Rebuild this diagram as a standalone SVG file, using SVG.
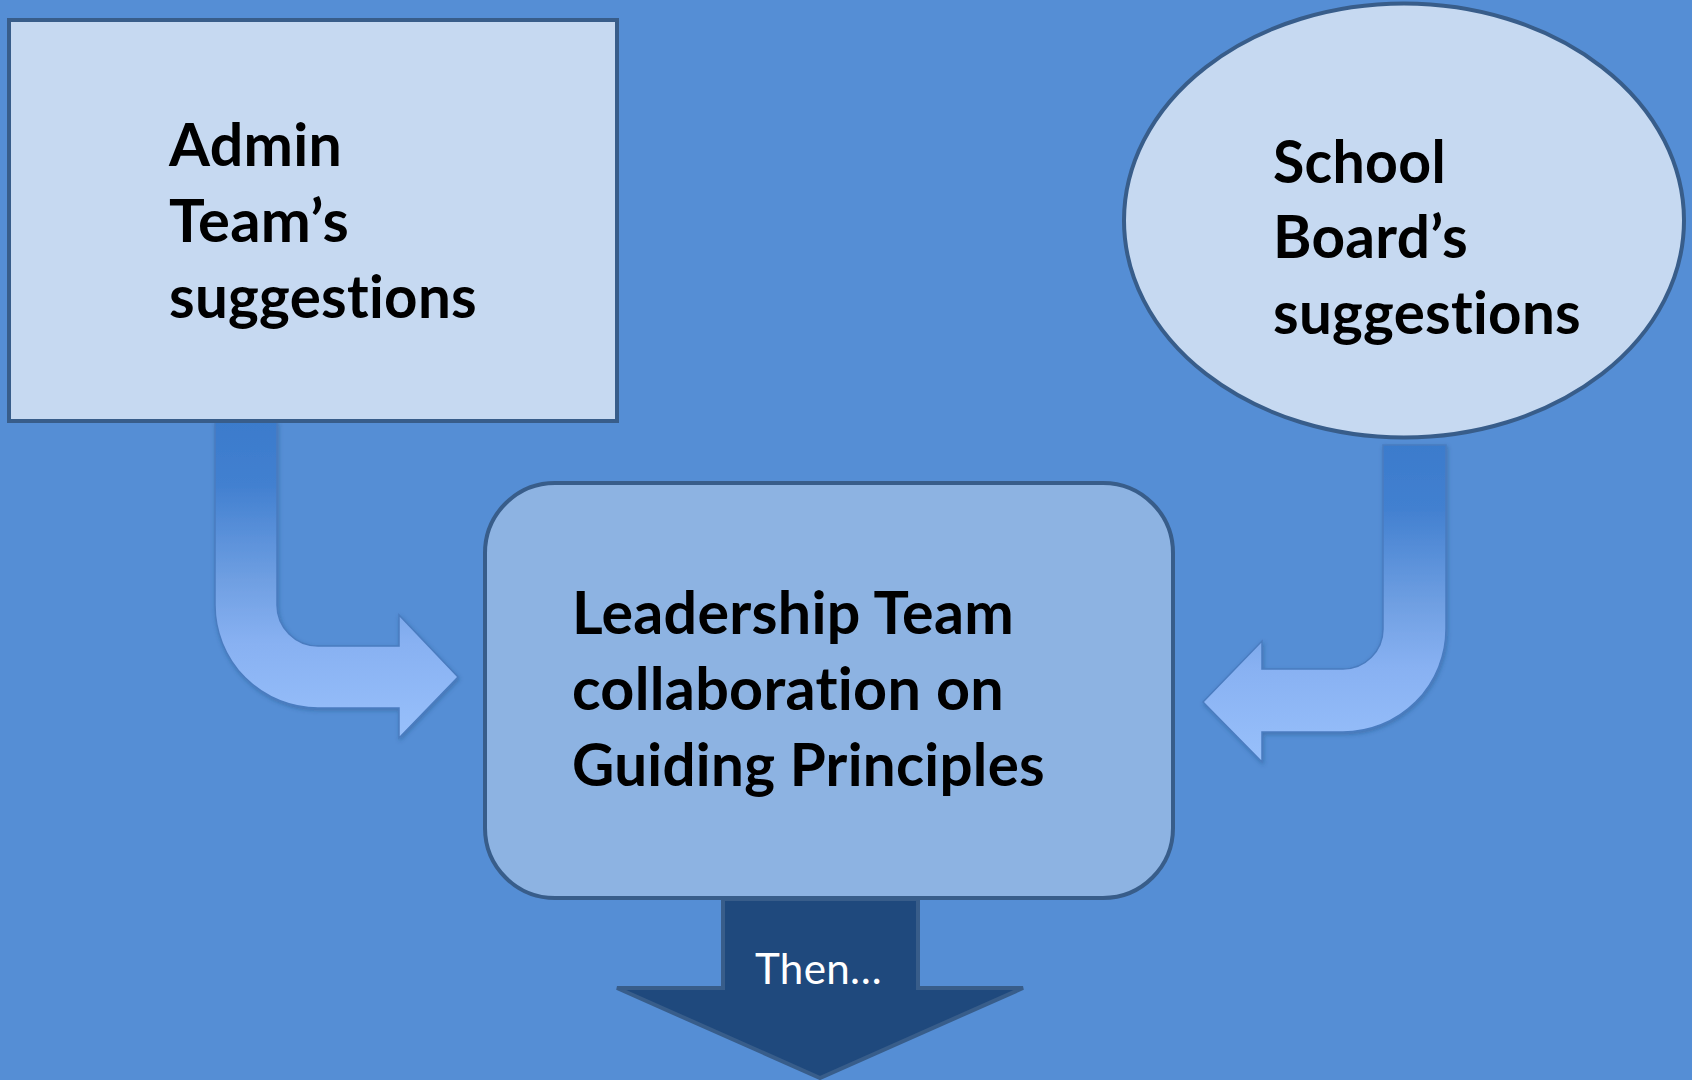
<svg xmlns="http://www.w3.org/2000/svg" width="1692" height="1080" viewBox="0 0 1692 1080">
<style>
text{font-variant-ligatures:no-common-ligatures;font-feature-settings:"liga" 0,"clig" 0;letter-spacing:0.3px}
.lbl{font-family:Lato,"Open Sans","Liberation Sans",sans-serif;font-weight:bold;font-size:60px;fill:#000}
.light{fill:#c6d9f1;stroke:#385d8a;stroke-width:4}
.bent{fill:url(#bentGrad);stroke:#4a7cc0;stroke-width:1.5;filter:url(#sh)}
</style>
<defs>
<linearGradient id="bentGrad" x1="0" y1="0" x2="0" y2="1">
<stop offset="0" stop-color="#3b7bcc"/>
<stop offset="0.2" stop-color="#4280d0"/>
<stop offset="0.5" stop-color="#6f9fe2"/>
<stop offset="0.7" stop-color="#88b1f2"/>
<stop offset="1" stop-color="#98c0fb"/>
</linearGradient>
<filter id="sh" x="-10%" y="-10%" width="130%" height="130%">
<feDropShadow dx="1" dy="2" stdDeviation="2" flood-color="#1f3f6f" flood-opacity="0.35"/>
</filter>
</defs>
<rect width="1692" height="1080" fill="#558ed5"/>
<g id="connectors">
<path id="arrow-admin" class="bent" d="M215,422 L277,422 L277,605 A41,41 0 0 0 318,646 L399,646 L399,615 L458,677 L399,738 L399,708 L318,708 A103,103 0 0 1 215,605 Z"/>
<path id="arrow-board" class="bent" d="M1383,445 L1446,445 L1446,629 A103,103 0 0 1 1343,732 L1262,732 L1262,762 L1203,702 L1262,641 L1262,669 L1343,669 A40,40 0 0 0 1383,629 Z"/>
</g>
<g id="admin">
<rect class="light" x="9" y="20" width="608" height="401"/>
<text class="lbl"><tspan x="169" y="166" textLength="173" lengthAdjust="spacingAndGlyphs">Admin</tspan><tspan x="169" y="242" textLength="180" lengthAdjust="spacingAndGlyphs">Team’s</tspan><tspan x="169" y="318" textLength="308" lengthAdjust="spacingAndGlyphs">suggestions</tspan></text>
</g>
<g id="board">
<ellipse class="light" cx="1404" cy="220.5" rx="280" ry="217"/>
<text class="lbl"><tspan x="1273" y="183" textLength="173" lengthAdjust="spacingAndGlyphs">School</tspan><tspan x="1273" y="258" textLength="195" lengthAdjust="spacingAndGlyphs">Board’s</tspan><tspan x="1273" y="334" textLength="308" lengthAdjust="spacingAndGlyphs">suggestions</tspan></text>
</g>
<g id="leadership">
<rect x="485" y="483" width="688" height="415" rx="70" ry="70" fill="#8db3e2" stroke="#385d8a" stroke-width="4"/>
<text class="lbl"><tspan x="572" y="634" textLength="442" lengthAdjust="spacingAndGlyphs">Leadership Team</tspan><tspan x="572" y="710" textLength="432" lengthAdjust="spacingAndGlyphs">collaboration on</tspan><tspan x="572" y="786" textLength="473" lengthAdjust="spacingAndGlyphs">Guiding Principles</tspan></text>
</g>
<g id="then">
<path d="M723,899 L918,899 L918,988 L1023,988 L820,1078 L617,988 L723,988 Z" fill="#1f497d" stroke="#385d8a" stroke-width="4" stroke-linejoin="miter"/>
<text x="755" y="984" font-family="Lato,'Open Sans','Liberation Sans',sans-serif" font-size="43" fill="#ffffff" textLength="127" lengthAdjust="spacingAndGlyphs">Then…</text>
</g>
</svg>
